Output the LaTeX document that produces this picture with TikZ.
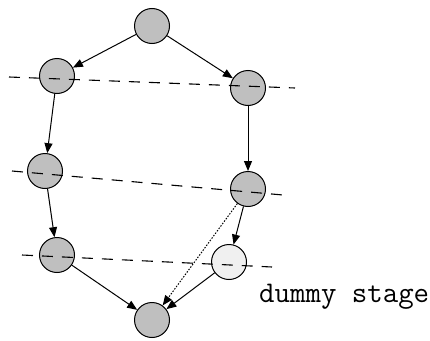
\documentclass[tikz,border=0pt]{standalone}
\usetikzlibrary{arrows.meta}

\tikzset{
  stage/.style={circle, draw, line width=1pt, fill=gray!50, minimum size=35pt, inner sep=0pt},
  dummystage/.style={stage, fill=gray!12},
  flow/.style={-{Triangle[length=10pt,width=8pt]}, line width=1pt},
  cut/.style={dash pattern=on 11pt off 9pt, line width=1.1pt},
}

\begin{document}
\begin{tikzpicture}[x=1pt, y=-1pt] % pipeline stages, cut lines across them
    \useasboundingbox (0,0) rectangle (430,340);

    \node[stage] (top) at (152,26) {};
    \node[stage] (l1) at (57,76) {};
    \node[stage] (r1) at (248,88) {};
    \node[stage] (l2) at (45,171) {};
    \node[stage] (r2) at (248,189) {};
    \node[stage] (l3) at (57,255) {};
    \node[dummystage] (d) at (229,262) {};
    \node[stage] (bot) at (152,320) {};
    \node[anchor=base west, inner sep=0pt] (dlabel) at (259,302)
        {\fontsize{30}{33}\selectfont\ttfamily dummy stage};

    \draw[flow] (top) -- (l1);
    \draw[flow] (top) -- (r1);
    \draw[flow] (l1) -- (l2);
    \draw[flow] (r1) -- (r2);
    \draw[flow] (l2) -- (l3);
    \draw[flow] (r2) -- (d);
    \draw[flow] (l3) -- (bot);
    \draw[flow] (d) -- (bot);
    \draw[flow, dash pattern=on 1.5pt off 1.5pt] (r2) -- (bot);

    % cut lines
    \coordinate (c1w) at (9,77);
    \coordinate (c1e) at (295,88);
    \coordinate (c2w) at (12,171);
    \coordinate (c2e) at (283,195);
    \coordinate (c3w) at (22,255);
    \coordinate (c3e) at (272,267);
    \draw[cut] (c1w) -- (c1e);
    \draw[cut] (c2w) -- (c2e);
    \draw[cut] (c3w) -- (c3e);
\end{tikzpicture}
\end{document}
